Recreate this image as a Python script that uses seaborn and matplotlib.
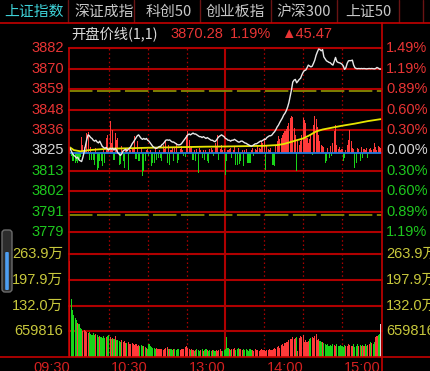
import matplotlib
matplotlib.use("Agg")
import numpy as np
import pandas as pd
import seaborn as sns
import matplotlib.pyplot as plt
from matplotlib import font_manager as fm
from matplotlib.transforms import blended_transform_factory, IdentityTransform
from matplotlib.patches import FancyBboxPatch
from matplotlib.lines import Line2D

# ---------------- data ----------------
tabs = ["上证指数", "深证成指", "科创50", "创业板指", "沪深300", "上证50"]
indicator_name = "开盘价线(1,1)"
prev_close = 3824.81
last_price = "3870.28"
last_pct = "1.19%"
last_change = "▲45.47"

price_tick_labels = ["3882", "3870", "3859", "3848", "3836", "3825", "3813", "3802", "3791", "3779"]
pct_tick_labels = ["1.49%", "1.19%", "0.89%", "0.60%", "0.30%", "0.00%", "0.30%", "0.60%", "0.89%", "1.19%"]
pct_step = 0.00298
vol_ticks = [65.98, 131.96, 197.95, 263.93]          # 万
vol_tick_labels = ["659816", "132.0万", "197.9万", "263.9万"]
time_ticks = [0, 60, 120, 180, 240]
time_labels = ["09:30", "10:30", "13:00", "14:00", "15:00"]

price = [
    3826.0,
    3824.5, 3823.0, 3822.0, 3821.5, 3820.5, 3821.0, 3819.5, 3819.0, 3818.6, 3821.0,
    3824.0, 3827.5, 3831.0, 3833.5, 3833.0, 3832.0, 3831.5, 3830.5, 3830.0, 3830.5,
    3829.5, 3829.0, 3830.0, 3828.5, 3827.0, 3826.5, 3826.0, 3826.5, 3825.5, 3825.0,
    3826.0, 3825.5, 3826.0, 3825.0, 3826.0, 3825.0, 3823.5, 3822.8, 3822.0, 3823.0,
    3824.5, 3825.0, 3825.5, 3824.5, 3825.5, 3826.0, 3827.0, 3828.5, 3829.5, 3830.7,
    3832.0, 3833.0, 3833.5, 3832.5, 3831.5, 3831.0, 3831.5, 3831.0, 3831.5, 3830.5,
    3830.0, 3829.0, 3828.0, 3827.0, 3826.5, 3826.0, 3826.0, 3826.5, 3827.0, 3827.0,
    3828.0, 3828.5, 3829.5, 3830.5, 3830.7, 3830.5, 3830.7, 3830.0, 3829.5, 3829.5,
    3829.0, 3828.5, 3828.0, 3827.9, 3828.0, 3828.5, 3829.5, 3830.5, 3831.5, 3832.5,
    3833.5, 3834.0, 3833.5, 3834.0, 3834.5, 3834.0, 3834.0, 3833.5, 3833.0, 3832.5,
    3832.5, 3832.0, 3832.5, 3832.0, 3831.5, 3832.0, 3831.5, 3831.0, 3830.5, 3830.5,
    3830.0, 3829.7, 3830.5, 3831.6, 3832.5, 3833.0, 3833.5, 3833.0, 3832.5, 3831.5,
    3831.2, 3830.5, 3830.5, 3830.0, 3830.5, 3830.5, 3831.0, 3830.5, 3830.0, 3829.5,
    3829.5, 3830.0, 3830.0, 3829.5, 3829.0, 3828.8, 3828.3, 3827.9, 3827.5, 3827.2,
    3827.5, 3828.0, 3828.5, 3828.5, 3829.0, 3829.5, 3830.0, 3830.0, 3830.5, 3831.0,
    3831.0, 3832.0, 3832.5, 3833.0, 3833.0, 3833.5, 3834.5, 3835.3, 3836.5, 3838.0,
    3839.0, 3840.5, 3841.8, 3843.0, 3844.6, 3845.6, 3847.0, 3849.0, 3851.5, 3855.0,
    3858.6, 3863.0, 3864.1, 3864.5, 3862.6, 3863.5, 3864.5, 3865.1, 3867.0, 3868.5,
    3869.5, 3869.7, 3871.0, 3872.5, 3872.0, 3871.5, 3871.9, 3873.5, 3875.3, 3878.0,
    3879.9, 3881.5, 3881.2, 3880.5, 3881.2, 3877.1, 3876.0, 3874.9, 3874.5, 3874.0,
    3873.8, 3873.0, 3872.5, 3874.5, 3876.8, 3874.5, 3874.0, 3873.8, 3873.5, 3873.0,
    3872.0, 3870.1, 3871.0, 3873.5, 3874.9, 3875.0, 3875.0, 3875.3, 3872.5, 3871.0,
    3870.6, 3870.5, 3870.6, 3870.5, 3870.6, 3870.5, 3870.6, 3870.5, 3870.4, 3870.5,
    3870.6, 3870.5, 3870.6, 3870.5, 3870.4, 3870.6, 3871.2, 3870.8, 3870.3, 3870.28,
]

avg_minutes = [0, 3, 8, 15, 30, 45, 60, 75, 90, 105, 120, 135, 150, 160, 165, 170,
               175, 180, 185, 190, 195, 200, 210, 220, 230, 240]
avg_price = [3826.5, 3825.0, 3824.3, 3825.0, 3825.8, 3826.0, 3826.3, 3826.5, 3826.7,
             3826.9, 3827.0, 3827.2, 3827.4, 3827.8, 3828.4, 3829.4, 3830.5, 3831.5,
             3833.3, 3835.4, 3836.5, 3837.2, 3838.6, 3839.8, 3841.2, 3842.3]

# buying/selling strength bars (red up, green down)
strength = [
    4, -3, -8, -8, -10, -8, -10, -6, -4, 16, 8,
    6, 3, 20, 21, -7, 6, -7, -7, -12, 5,
    -17, -15, -8, -8, -13, 3, -10, 15, 18, 4,
    32, 10, 23, -7, 20, 13, 15, -12, -11, 7,
    -8, -15, 4, 5, -17, 6, 3, 4, 5, 17,
    -6, 12, -8, -8, 5, -23, -18, -8, 3, 4,
    -3, 3, -13, -10, -10, 5, -7, -5, 3, -5,
    -8, 8, 4, 12, -10, 8, -12, 3, 6, -8,
    5, 10, -10, -7, 4, 7, 3, -3, -4, 18,
    22, 13, 5, 6, -7, 3, -8, 4, -20, 5,
    3, -5, 3, -7, 3, -8, -10, 4, 5, 3,
    -3, 10, 6, 18, -7, 4, 8, 3, 4, -22,
    -8, 3, 4, 5, -5, 3, 6, -12, -12, 5,
    -11, -8, 3, -13, 3, 4, -10, -10, -10, 3,
    5, -3, 4, 3, 7, 5, 4, 12, 10, 15,
    -17, 7, 4, 3, 5, -12, -12, -13, 7, 12,
    17, 14, 15, 18, 20, 22, 24, 27, 30, 35,
    37, 36, 25, 18, -18, 12, 8, 12, 18, 35,
    33, 30, 15, 10, 14, 18, -2, 28, 37, 34,
    26, 18, 12, 8, 7, 6, -10, -8, 5, -5,
    7, -3, 10, 22, 28, 8, 4, 6, 3, 4,
    -8, -5, 3, 8, 13, 23, 12, 5, 4, -15,
    -10, 5, 4, -8, 6, -5, 4, 3, 5, -5,
    4, 5, 3, 4, 10, 6, 3, 7, 6, 5,
]
strength_limit = 62

# per-minute volume in 万
volume = [
    245, 149, 121, 108, 100, 96, 88, 84, 76, 72, 68,
    70, 66, 65, 62, 64, 60, 58, 61, 57, 59,
    56, 53, 55, 52, 50, 54, 49, 52, 55, 57,
    53, 48, 50, 46, 55, 44, 45, 42, 40, 43,
    38, 41, 37, 36, 39, 35, 34, 37, 33, 32,
    35, 30, 32, 29, 31, 28, 30, 26, 25, 22,
    33, 30, 26, 24, 25, 22, 23, 21, 22, 20,
    21, 19, 22, 24, 26, 22, 20, 21, 19, 20,
    22, 19, 21, 20, 18, 21, 20, 22, 26, 28,
    24, 21, 19, 20, 18, 17, 19, 21, 18, 17,
    19, 20, 17, 18, 21, 19, 16, 18, 17, 19,
    18, 16, 19, 17, 18, 20, 17, 16, 18, 20,
    53, 24, 21, 19, 22, 20, 23, 19, 21, 24,
    20, 22, 19, 21, 18, 20, 19, 17, 20, 18,
    19, 17, 20, 18, 19, 17, 18, 20, 19, 18,
    17, 19, 18, 20, 18, 19, 22, 24, 21, 26,
    29, 25, 31, 33, 30, 36, 40, 38, 43, 46,
    48, 51, 47, 50, 53, 17, 50, 55, 52, 56,
    40, 43, 38, 41, 47, 49, 51, 50, 55, 60,
    45, 47, 42, 38, 40, 36, 33, 31, 34, 30,
    32, 30, 34, 31, 29, 33, 30, 28, 31, 29,
    27, 32, 30, 28, 33, 31, 29, 30, 34, 27,
    30, 33, 29, 31, 28, 32, 30, 34, 29, 31,
    33, 38, 36, 35, 40, 51, 55, 58, 60, 85,
]

minutes = np.arange(len(price))

# ---------------- style ----------------
sns.set_style("dark")
names = {f.name for f in fm.fontManager.ttflist}
NARROW = "Liberation Sans Narrow" in names
NUM = "Liberation Sans Narrow" if NARROW else "Liberation Sans"
CJK = "Noto Sans CJK SC"
plt.rcParams["font.family"] = [NUM, CJK, "DejaVu Sans"]
NS = 12.5 if NARROW else 10.5

BG = "black"
GRID = "#b00000"
FRAME = "#c40000"
RED = "#ff3a3a"
GREEN = "#19d419"
RED_TXT = "#e83434"
GREEN_TXT = "#1ec81e"
WHITE_TXT = "#d4d4d4"
YEL_TXT = "#c8c83c"

W, H = 430.0, 371.0
fig = plt.figure(figsize=(W / 100, H / 100), dpi=100, facecolor=BG)

def fx(x):
    return x / W

def fy(y):
    return 1 - y / H

L, R = 69.3, 381.5
PT, PB, VB = 48.3, 254.0, 357.3
rect_p = [fx(L), fy(PB), (R - L) / W, (PB - PT) / H]
rect_v = [fx(L), fy(VB), (R - L) / W, (VB - PB) / H]

ax_bg = fig.add_axes(rect_p, label="bg", facecolor=BG)
ax_s = fig.add_axes(rect_p, label="strength", facecolor="none")
ax_p = fig.add_axes(rect_p, label="price", facecolor="none")
ax_v = fig.add_axes(rect_v, label="volume", facecolor=BG)

xlim = (-0.5, len(price) - 0.5)
for a in (ax_bg, ax_s, ax_p, ax_v):
    a.set_xlim(*xlim)
    a.axis("off")
ax_bg.set_ylim(3766.9, 3881.9)
ax_p.set_ylim(3766.9, 3881.9)
ax_s.set_ylim(-100.7, 105)
ax_v.set_ylim(0, vol_ticks[-1])

# price tick values from previous close
price_tick_vals = [prev_close * (1 + pct_step * k) for k in range(5, -5, -1)]

# gridlines
for v in price_tick_vals:
    if abs(v - prev_close) < 1e-6:
        continue
    ax_bg.axhline(v, color=GRID, lw=1.5, clip_on=False, zorder=1)
for v in vol_ticks:
    ax_v.axhline(v, color=GRID, lw=1.5, clip_on=False, zorder=1)
for a in (ax_bg, ax_v):
    for m in (30, 60, 90, 150, 180, 210):
        a.axvline(m, color=GRID, lw=0.9, ls=(0, (1.2, 2.2)), zorder=1)
    a.axvline(120, color=GRID, lw=1.5, zorder=1)

# strength bars + reference lines
s = np.array(strength, dtype=float)
pos = s > 0
ax_s.bar(minutes[pos], s[pos], width=0.8, color=RED, linewidth=0, zorder=2)
ax_s.bar(minutes[~pos], s[~pos], width=0.8, color=GREEN, linewidth=0, zorder=2)
ax_s.axhline(0, color="#1e7ae0", lw=1.3, zorder=3)
for v in (strength_limit, -strength_limit):
    ax_s.axhline(v, color="#8a8a00", lw=1.3, ls=(0, (13, 2.5)), zorder=3)

# price & average lines
df_p = pd.DataFrame({"minute": minutes, "price": price})
df_a = pd.DataFrame({"minute": avg_minutes, "avg": avg_price})
sns.lineplot(data=df_a, x="minute", y="avg", ax=ax_p, color="#e6e600", linewidth=1.3,
             estimator=None, legend=False)
sns.lineplot(data=df_p, x="minute", y="price", ax=ax_p, color="#e8e8e8", linewidth=1.0,
             estimator=None, legend=False)
for a in (ax_p,):
    a.set_xlim(*xlim)
    a.set_ylim(3766.9, 3881.9)
    a.axis("off")

# volume bars, coloured by minute direction
pr = np.array(price)
vcolors = [RED] + [RED if pr[i] >= pr[i - 1] else GREEN for i in range(1, len(pr))]
vcolors[-1] = "#d8d8d8"
ax_v.bar(minutes, volume, width=0.85, color=vcolors, linewidth=0, zorder=2)

# ---------------- axis labels ----------------
tb = blended_transform_factory(ax_bg.transAxes, ax_bg.transData)
for v, lab, plab in zip(price_tick_vals, price_tick_labels, pct_tick_labels):
    if v > prev_close + 1e-6:
        c = RED_TXT
    elif v < prev_close - 1e-6:
        c = GREEN_TXT
    else:
        c = WHITE_TXT
    ax_bg.text(-0.016, v, lab, transform=tb, ha="right", va="center", color=c,
               fontsize=NS, clip_on=False)
    ax_bg.text(1.0144, v, plab, transform=tb, ha="left", va="center", color=c,
               fontsize=NS, clip_on=False)

tv = blended_transform_factory(ax_v.transAxes, ax_v.transData)
for v, lab in zip(vol_ticks, vol_tick_labels):
    ax_v.text(-0.019, v, lab, transform=tv, ha="right", va="center", color=YEL_TXT,
              fontsize=NS, clip_on=False)
    ax_v.text(1.0144, v, lab, transform=tv, ha="left", va="center", color=YEL_TXT,
              fontsize=NS, clip_on=False)

tt = blended_transform_factory(ax_v.transData, ax_v.transAxes)
for m, lab in zip(time_ticks, time_labels):
    ax_v.text(m, -(367.5 - VB) / (VB - PB), lab, transform=tt, ha="right", va="center",
              color="#d42020", fontsize=NS, clip_on=False)

# ---------------- header ----------------
tab_x = [4, 74, 145.7, 206, 276, 345.7]
for i, (t, x) in enumerate(zip(tabs, tab_x)):
    fig.text(fx(x), fy(11.5), t, ha="left", va="center", fontsize=10.7,
             color="#3ed2d8" if i == 0 else "#c8c8c8", family=[CJK, "DejaVu Sans"])
for x in (67.7, 134.3, 200.3, 270.7, 337.3, 399, 423):
    fig.add_artist(Line2D([fx(x), fx(x)], [fy(0), fy(22)], color="#6a1414", lw=1.0,
                          transform=fig.transFigure))
fig.text(fx(71.5), fy(33.5), indicator_name, ha="left", va="center", fontsize=10.3,
         color="#dcdcdc", family=[CJK, "DejaVu Sans"])
fig.text(fx(170), fy(33.5), last_price, ha="left", va="center", fontsize=NS, color=RED_TXT)
fig.text(fx(230), fy(33.5), last_pct, ha="left", va="center", fontsize=NS, color=RED_TXT)
fig.text(fx(281.5), fy(33.5), last_change, ha="left", va="center", fontsize=NS, color=RED_TXT,
         family=[NUM, "DejaVu Sans"])

# ---------------- frame lines ----------------
def fline(x0, y0, x1, y1, c=FRAME, lw=1.2):
    fig.add_artist(Line2D([fx(x0), fx(x1)], [fy(y0), fy(y1)], color=c, lw=lw,
                          transform=fig.transFigure))

fline(0, 22.7, 430, 22.7)
fline(R, 22.7, R, 371)
fline(L, PT, L, VB)
fline(0, VB, 430, VB)

# scroll indicator at the left
outer = FancyBboxPatch((5, H - 289), 4, 56, boxstyle="round,pad=3",
                       facecolor="#2c2c2c", edgecolor="#6c6c6c", lw=1.0,
                       transform=IdentityTransform())
inner = FancyBboxPatch((6.2, H - 289), 1.6, 36, boxstyle="round,pad=1",
                       facecolor="#4d9ef2", edgecolor="none", transform=IdentityTransform())
fig.add_artist(outer)
fig.add_artist(inner)

fig.savefig("out.png", dpi=100, facecolor=BG)
